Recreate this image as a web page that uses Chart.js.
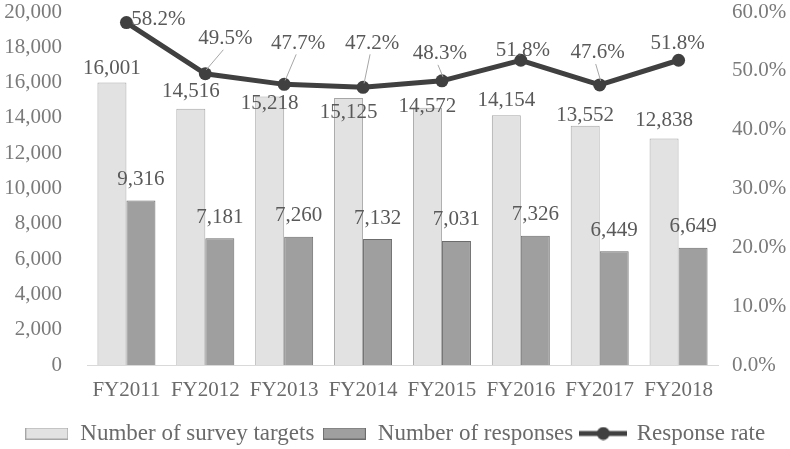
<!DOCTYPE html>
<html>
<head>
<meta charset="utf-8">
<script src="https://cdn.jsdelivr.net/npm/chart.js@4"></script>
<style>
  html, body { margin: 0; padding: 0; background: #fff; }
  #wrap { width: 790px; height: 449px; }
</style>
</head>
<body>
<div id="wrap"><canvas id="chart"></canvas></div>
<script>
const years = ["FY2011", "FY2012", "FY2013", "FY2014", "FY2015", "FY2016", "FY2017", "FY2018"];
const surveyTargets = [16001, 14516, 15218, 15125, 14572, 14154, 13552, 12838];
const responses = [9316, 7181, 7260, 7132, 7031, 7326, 6449, 6649];
const responseRate = [58.2, 49.5, 47.7, 47.2, 48.3, 51.8, 47.6, 51.8];

// label placement tweaks (pixels), the source moved some labels by hand
const targetLabelShift = [-14, -17, 7, 14, -1, -15, -10, -18];
const rateLabelShift = [[32, -3], [20, -35], [14, -41], [9, -44], [-2, -27], [2, -10], [-2, -32], [-1, -17]];

const FONT = "'Liberation Serif', serif";
const LIGHT = "#e2e2e2", LIGHT_EDGE = "#a6a6a6";
const DARK = "#9f9f9f", DARK_EDGE = "#6c6c6c";
const LINE = "#404040";

function legendIcon(kind) {
    const c = document.createElement("canvas");
    if (kind === "line") {
        c.width = 48; c.height = 14;
        const g = c.getContext("2d");
        g.strokeStyle = LINE; g.lineWidth = 5;
        g.beginPath(); g.moveTo(0, 7); g.lineTo(48, 7); g.stroke();
        g.fillStyle = LINE;
        g.beginPath(); g.arc(24, 7, 6.5, 0, Math.PI * 2); g.fill();
    } else {
        c.width = 43; c.height = 12;
        const g = c.getContext("2d");
        g.fillStyle = kind === "light" ? LIGHT : DARK;
        g.fillRect(0, 0, 43, 12);
        g.strokeStyle = kind === "light" ? LIGHT_EDGE : DARK_EDGE;
        g.lineWidth = 1;
        g.strokeRect(0.5, 0.5, 42, 11);
    }
    return c;
}
const icons = [legendIcon("light"), legendIcon("dark"), legendIcon("line")];

const labelPlugin = {
    id: "valueLabels",
    afterDatasetsDraw(chart) {
        const ctx = chart.ctx;
        ctx.save();
        ctx.font = "21px " + FONT;
        ctx.fillStyle = "#595959";
        ctx.textAlign = "center";
        ctx.textBaseline = "middle";

        chart.getDatasetMeta(0).data.forEach((bar, i) => {
            ctx.fillText(surveyTargets[i].toLocaleString("en-US"), bar.x, bar.y + targetLabelShift[i]);
        });
        chart.getDatasetMeta(1).data.forEach((bar, i) => {
            ctx.fillText(responses[i].toLocaleString("en-US"), bar.x, bar.y - 21);
        });
        chart.getDatasetMeta(2).data.forEach((pt, i) => {
            const lx = pt.x + rateLabelShift[i][0];
            const ly = pt.y + rateLabelShift[i][1];
            if (rateLabelShift[i][1] < -20) {
                // leader line from label to point
                ctx.strokeStyle = "#a6a6a6";
                ctx.lineWidth = 1;
                ctx.beginPath();
                ctx.moveTo(lx - 2, ly + 11);
                ctx.lineTo(pt.x + 1, pt.y - 4);
                ctx.stroke();
            }
            ctx.fillText(responseRate[i].toFixed(1) + "%", lx, ly);
        });
        ctx.restore();
    }
};

// tick padding also pads the top of vertical axes, take that back
function fitSide(width) {
    return scale => {
        scale.width = width;
        scale.paddingTop = 12;
        scale.paddingBottom = 0;
    };
}

new Chart(document.getElementById("chart"), {
    type: "bar",
    data: {
        labels: years,
        datasets: [
            {
                label: "Number of survey targets",
                data: surveyTargets,
                backgroundColor: LIGHT,
                borderColor: LIGHT_EDGE,
                borderWidth: 1,
                yAxisID: "y",
                categoryPercentage: 0.735,
                barPercentage: 1,
                order: 1
            },
            {
                label: "Number of responses",
                data: responses,
                backgroundColor: DARK,
                borderColor: DARK_EDGE,
                borderWidth: 1,
                yAxisID: "y",
                categoryPercentage: 0.735,
                barPercentage: 1,
                order: 1
            },
            {
                type: "line",
                label: "Response rate",
                data: responseRate,
                borderColor: LINE,
                backgroundColor: LINE,
                borderWidth: 5,
                pointRadius: 6.5,
                pointBackgroundColor: LINE,
                pointBorderWidth: 0,
                tension: 0,
                yAxisID: "y1",
                order: -1
            }
        ]
    },
    options: {
        responsive: true,
        maintainAspectRatio: false,
        animation: false,
        layout: { padding: { top: 0, bottom: -6, left: 0, right: 0 } },
        scales: {
            x: {
                grid: { display: false, drawTicks: false },
                border: { display: true, color: "#d9d9d9", width: 1 },
                ticks: { color: "#6a6a6a", font: { family: FONT, size: 21 }, padding: 13, maxRotation: 0, autoSkip: false },
                afterFit(scale) { scale.height = 49; }
            },
            y: {
                position: "left",
                min: 0,
                max: 20000,
                grid: { display: false, drawTicks: false },
                border: { display: false },
                ticks: {
                    stepSize: 2000,
                    color: "#7a7a7a",
                    font: { family: FONT, size: 21 },
                    padding: 25,
                    callback: v => v.toLocaleString("en-US")
                },
                afterFit: fitSide(87)
            },
            y1: {
                position: "right",
                min: 0,
                max: 60,
                grid: { display: false, drawTicks: false },
                border: { display: false },
                ticks: {
                    stepSize: 10,
                    color: "#7a7a7a",
                    font: { family: FONT, size: 21 },
                    padding: 14,
                    callback: v => v.toFixed(1) + "%"
                },
                afterFit: fitSide(72)
            }
        },
        plugins: {
            legend: {
                position: "bottom",
                labels: {
                    usePointStyle: true,
                    pointStyleWidth: 44,
                    padding: 8,
                    color: "#6a6a6a",
                    font: { family: FONT, size: 23 },
                    sort: (a, b) => a.datasetIndex - b.datasetIndex,
                    generateLabels(chart) {
                        const items = Chart.defaults.plugins.legend.labels.generateLabels(chart);
                        items.forEach(it => { it.pointStyle = icons[it.datasetIndex]; });
                        return items;
                    }
                }
            },
            tooltip: { enabled: false }
        }
    },
    plugins: [labelPlugin]
});
</script>
</body>
</html>
